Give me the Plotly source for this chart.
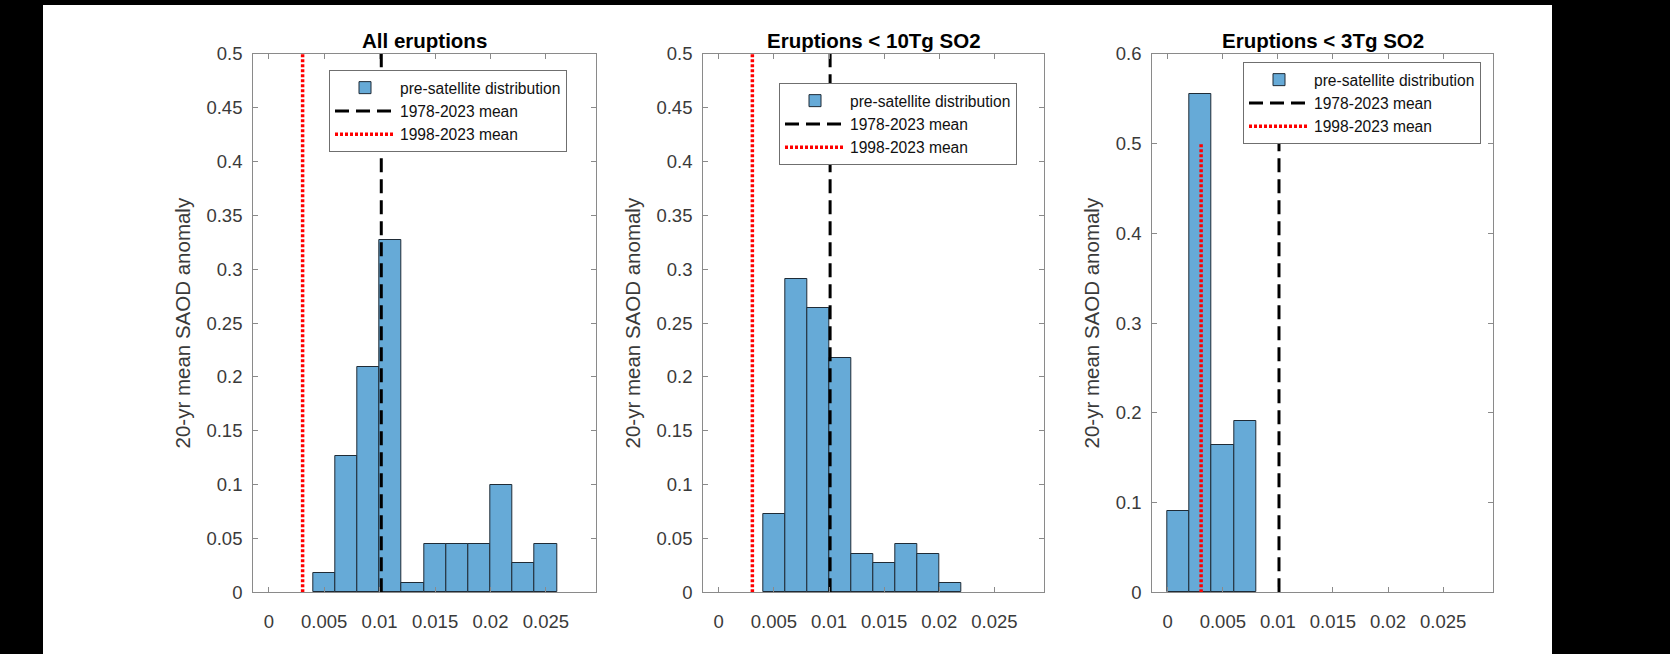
import plotly.graph_objects as go

# ---- data ----
titles = ["All eruptions", "Eruptions < 10Tg SO2", "Eruptions < 3Tg SO2"]
y_label = "20-yr mean SAOD anomaly"
legend_names = ["pre-satellite distribution", "1978-2023 mean", "1998-2023 mean"]

bin_width = 0.002
p1_edges = [0.004, 0.006, 0.008, 0.010, 0.012, 0.014, 0.016, 0.018, 0.020, 0.022, 0.024, 0.026]
p1_values = [0.018, 0.127, 0.209, 0.327, 0.009, 0.045, 0.045, 0.045, 0.100, 0.027, 0.045]
p2_edges = [0.004, 0.006, 0.008, 0.010, 0.012, 0.014, 0.016, 0.018, 0.020, 0.022]
p2_values = [0.073, 0.291, 0.264, 0.218, 0.036, 0.027, 0.045, 0.036, 0.009]
p3_edges = [0.000, 0.002, 0.004, 0.006, 0.008]
p3_values = [0.091, 0.555, 0.164, 0.191]

mean_1978_2023 = [0.01015, 0.0101, 0.0101]
mean_1998_2023 = [0.00305, 0.00305, 0.00303]
line_y = [0, 0.5]

x_ticks = [0, 0.005, 0.01, 0.015, 0.02, 0.025]
y_ticks_12 = [0, 0.05, 0.1, 0.15, 0.2, 0.25, 0.3, 0.35, 0.4, 0.45, 0.5]
y_ticks_3 = [0, 0.1, 0.2, 0.3, 0.4, 0.5, 0.6]
x_range = [-0.0014, 0.0295]
y_ranges = [[0, 0.5], [0, 0.5], [0, 0.6]]

# ---- layout geometry ----
W, H = 1670, 654
x_domains = [[253.3 / W, 595.7 / W], [703.3 / W, 1044.0 / W], [1152.3 / W, 1492.7 / W]]
y_domain = [(H - 592.3) / H, (H - 54.0) / H]
legend_pos = [(329 / W, 1 - 70 / H), (779 / W, 1 - 83 / H), (1243 / W, 1 - 62 / H)]

FONT = "Liberation Sans, Arial, sans-serif"
TICK_COL = "#3a3a3a"
AX_COL = "#8a8a8a"
BAR_FILL = "rgb(102,170,215)"
BAR_EDGE = "#1f2b36"

fig = go.Figure()

edges_all = [p1_edges, p2_edges, p3_edges]
vals_all = [p1_values, p2_values, p3_values]
legend_ids = ["legend", "legend2", "legend3"]

for i in range(3):
    xa = "x" if i == 0 else f"x{i+1}"
    ya = "y" if i == 0 else f"y{i+1}"
    edges = edges_all[i]
    centers = [e + bin_width / 2 for e in edges[:-1]]
    fig.add_trace(go.Bar(
        x=centers, y=vals_all[i], width=[bin_width] * len(centers),
        marker=dict(color=BAR_FILL, line=dict(color=BAR_EDGE, width=1)),
        name=legend_names[0], xaxis=xa, yaxis=ya, legend=legend_ids[i],
        showlegend=True))
    fig.add_trace(go.Scatter(
        x=[mean_1978_2023[i]] * 2, y=line_y, mode="lines",
        line=dict(color="black", width=3, dash="14px,7px"),
        name=legend_names[1], xaxis=xa, yaxis=ya, legend=legend_ids[i]))
    fig.add_trace(go.Scatter(
        x=[mean_1998_2023[i]] * 2, y=line_y, mode="lines",
        line=dict(color="red", width=3.5, dash="3px,2px"),
        name=legend_names[2], xaxis=xa, yaxis=ya, legend=legend_ids[i]))

layout = dict(
    width=W, height=H,
    margin=dict(l=0, r=0, t=0, b=0, pad=0),
    paper_bgcolor="black", plot_bgcolor="white",
    font=dict(family=FONT, color=TICK_COL, size=18),
    bargap=0,
    shapes=[dict(type="rect", xref="paper", yref="paper",
                 x0=43 / W, x1=1552 / W, y0=0, y1=1 - 5 / H,
                 fillcolor="white", line=dict(width=0), layer="below")],
    annotations=[],
)

for i in range(3):
    xk = "xaxis" if i == 0 else f"xaxis{i+1}"
    yk = "yaxis" if i == 0 else f"yaxis{i+1}"
    ya = "y" if i == 0 else f"y{i+1}"
    xa = "x" if i == 0 else f"x{i+1}"
    layout[xk] = dict(
        domain=x_domains[i], anchor=ya, range=x_range, automargin=False,
        tickvals=x_ticks, ticks="inside", ticklen=5, tickcolor=AX_COL,
        showline=True, linecolor=AX_COL, linewidth=1.3, mirror="ticks",
        showgrid=False, zeroline=False, ticklabelstandoff=12,
        tickfont=dict(size=18.5, color=TICK_COL, family=FONT))
    layout[yk] = dict(
        domain=y_domain, anchor=xa, range=y_ranges[i], automargin=False,
        tickvals=y_ticks_12 if i < 2 else y_ticks_3,
        ticks="inside", ticklen=5, tickcolor=AX_COL,
        showline=True, linecolor=AX_COL, linewidth=1.3, mirror="ticks",
        showgrid=False, zeroline=False, ticklabelstandoff=6,
        tickfont=dict(size=18.5, color=TICK_COL, family=FONT),
        title=dict(text=y_label, standoff=10,
                   font=dict(size=20.5, color=TICK_COL, family=FONT)))
    lid = legend_ids[i]
    layout[lid] = dict(
        x=legend_pos[i][0], y=legend_pos[i][1], xanchor="left", yanchor="top",
        xref="paper", yref="paper",
        bgcolor="white", bordercolor="#6f6f6f", borderwidth=1,
        font=dict(size=15.6, color="#111111", family=FONT),
        tracegroupgap=0, itemwidth=60)
    layout["annotations"].append(dict(
        text="<b>" + titles[i] + "</b>", xref="paper", yref="paper",
        x=(x_domains[i][0] + x_domains[i][1]) / 2, y=1 - 40.7 / H,
        xanchor="center", yanchor="middle", showarrow=False,
        font=dict(size=20.5, color="black", family=FONT)))

fig.update_layout(**layout)
fig.write_html("out.html")
